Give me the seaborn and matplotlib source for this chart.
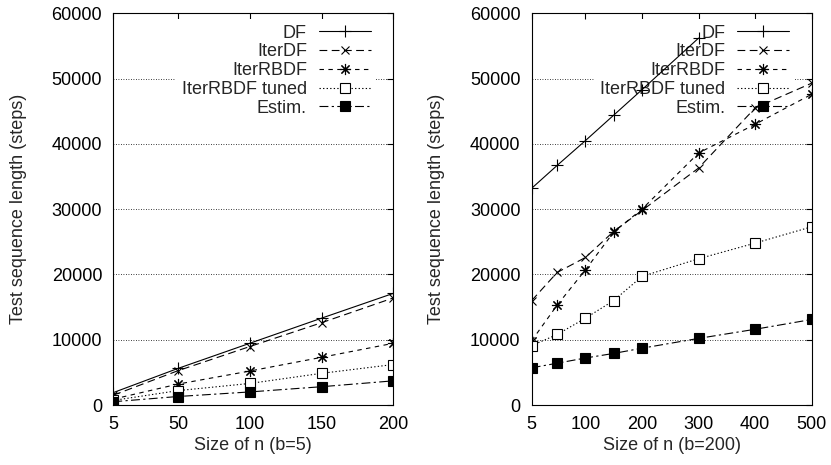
import numpy as np
import pandas as pd
import matplotlib
matplotlib.use('Agg')
import matplotlib.pyplot as plt
import seaborn as sns

# data (left: b=5, right: b=200)
n_left = [5, 50, 100, 150, 200]
df_left = [1900, 5600, 9450, 13300, 17100]
iterdf_left = [1500, 5250, 8950, 12600, 16400]
iterrbdf_left = [900, 3200, 5200, 7300, 9450]
tuned_left = [700, 2200, 3300, 4850, 6200]
estim_left = [500, 1300, 2000, 2800, 3700]

n_right = [5, 50, 100, 150, 200, 300, 400, 500]
df_right = [33200, 36700, 40500, 44400, 48300, 56200]  # no runs beyond n=300
iterdf_right = [16000, 20300, 22600, 26600, 29800, 36300, 45500, 49300]
iterrbdf_right = [9850, 15300, 20700, 26500, 30000, 38600, 43000, 47600]
tuned_right = [9100, 10800, 13300, 16000, 19700, 22400, 24800, 27300]
estim_right = [5700, 6400, 7200, 7900, 8700, 10200, 11600, 13100]

xticks_left = [5, 50, 100, 150, 200]
xticks_right = [5, 100, 200, 300, 400, 500]
yticks = [0, 10000, 20000, 30000, 40000, 50000, 60000]

sns.set_theme(style='white')
plt.rcParams['font.family'] = ['Liberation Sans', 'DejaVu Sans']
plt.rcParams['font.size'] = 13

# gnuplot-like line/point styles
styles = {
    'DF': dict(linestyle='-', marker='+', markersize=8, mfc='black'),
    'IterDF': dict(linestyle=(0, (7, 4)), marker='x', markersize=6, mfc='black'),
    'IterRBDF': dict(linestyle=(0, (4, 4)), marker=(8, 2, 0), markersize=8, mfc='black'),
    'IterRBDF tuned': dict(linestyle=(0, (1.2, 2)), marker='s', markersize=6.5, mfc='white'),
    'Estim.': dict(linestyle=(0, (8, 3, 2, 3)), marker='s', markersize=6.5, mfc='black'),
}

fig = plt.figure(figsize=(8.31, 4.65), dpi=100)
W, H = 831, 465
ax1 = fig.add_axes([113.3 / W, 60 / H, 280 / W, 391.7 / H])
ax2 = fig.add_axes([531.7 / W, 60 / H, 280 / W, 391.7 / H])

panels = [
    (ax1, n_left, [df_left, iterdf_left, iterrbdf_left, tuned_left, estim_left],
     xticks_left, 'Size of n (b=5)'),
    (ax2, n_right, [df_right, iterdf_right, iterrbdf_right, tuned_right, estim_right],
     xticks_right, 'Size of n (b=200)'),
]

for ax, n, series, xt, xlab in panels:
    for name, vals in zip(styles.keys(), series):
        st = styles[name]
        sns.lineplot(x=n[:len(vals)], y=vals, ax=ax, color='black', lw=0.8,
                     linestyle=st['linestyle'], marker=st['marker'],
                     markersize=st['markersize'], markerfacecolor=st['mfc'],
                     markeredgecolor='black', markeredgewidth=0.8,
                     label=name, zorder=2)
    ax.set_xlim(xt[0], xt[-1])
    ax.set_ylim(0, 60000)
    ax.set_xticks(xt)
    ax.set_yticks(yticks)
    ax.set_axisbelow(True)
    ax.grid(axis='y', linestyle=(0, (1, 2)), color='black', lw=0.6)
    ax.grid(axis='x', visible=False)
    ax.tick_params(direction='in', top=True, right=True, length=4, width=0.8,
                   pad=8, labelsize=13, colors='black')
    for sp in ax.spines.values():
        sp.set_color('black')
        sp.set_linewidth(0.8)
    ax.set_xlabel(xlab, fontsize=13, labelpad=3)
    ax.set_ylabel('Test sequence length (steps)', fontsize=13, labelpad=18)
    # opaque key box: hides the grid but stays under the data lines (like gnuplot)
    leg = ax.legend(loc='upper right', bbox_to_anchor=(0.94, 0.985), markerfirst=False,
                    frameon=True, facecolor='white', edgecolor='none', framealpha=1,
                    fancybox=False, borderpad=0.3, borderaxespad=0, labelspacing=0.1,
                    handlelength=2.9, handletextpad=0.65, fontsize=13)
    leg.set_zorder(1.5)

fig.savefig('out.png', dpi=100)
